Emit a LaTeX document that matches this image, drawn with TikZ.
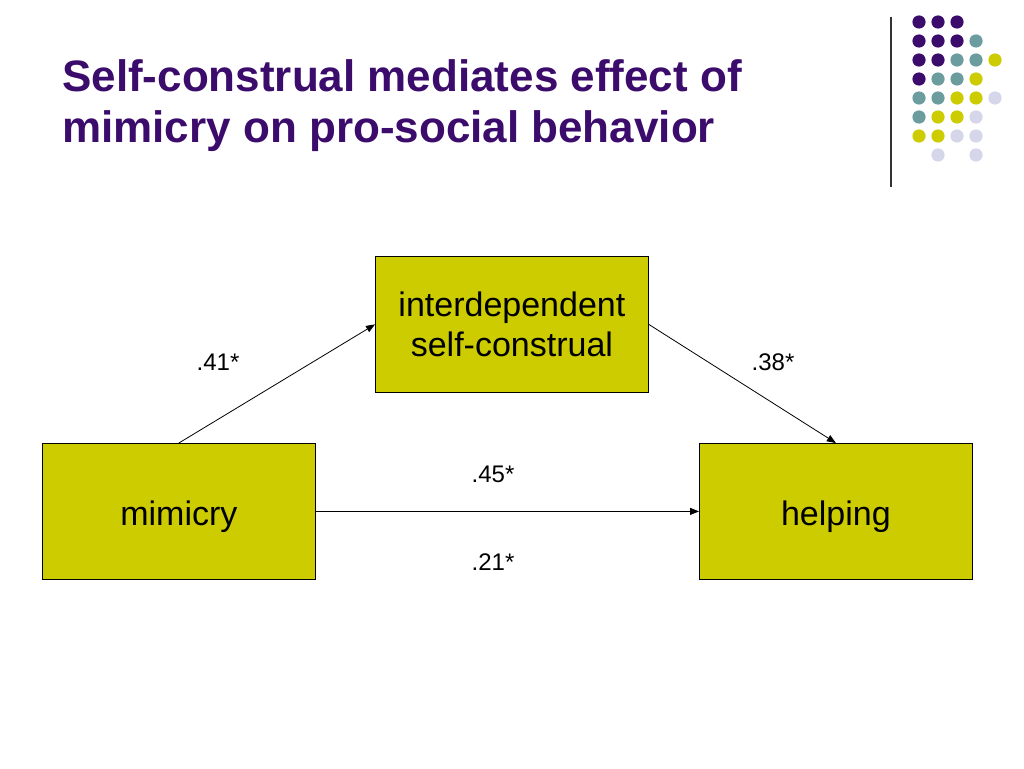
\documentclass[tikz,border=0pt]{standalone}
\usepackage{fontspec}
\setmainfont{Liberation Sans}
\usetikzlibrary{arrows.meta}
\definecolor{titlepurple}{HTML}{3C0C6C}
\definecolor{dpurple}{HTML}{3C0C6C}
\definecolor{dteal}{HTML}{6B9C9E}
\definecolor{dyellow}{HTML}{CCCC00}
\definecolor{dlav}{HTML}{D6D6EA}
\definecolor{boxfill}{HTML}{CCCC00}
\begin{document}
\begin{tikzpicture}[x=1pt,y=-1pt,
  box/.style={draw=black, line width=0.8pt, fill=boxfill, minimum width=273pt, minimum height=136pt, inner sep=0pt, font=\fontsize{34}{40}\selectfont, align=center, anchor=north west},
  oneline/.style={text height=36pt, text depth=7pt},
  lbl/.style={font=\fontsize{24}{28}\selectfont, inner sep=0pt},
  ttl/.style={font=\fontsize{44}{51}\selectfont\bfseries, text=titlepurple, inner sep=0pt, anchor=base west},
  arr/.style={-{Triangle[length=9pt,width=7pt]}, line width=0.8pt},
  dot/.style={radius=6.6pt}
]
\fill[white] (0,0) rectangle (1024,768);
\useasboundingbox (0,0) rectangle (1024,768);

% title
\node[ttl] (t1) at (62,91) {Self-construal mediates effect of};
\node[ttl] (t2) at (62,142) {mimicry on pro-social behavior};

% decoration
\draw[line width=1.3pt, color=black!80] (891,17) -- (891,187);
\foreach \x/\y/\c in {
  919/22/dpurple, 938/22/dpurple, 957/22/dpurple,
  919/41/dpurple, 938/41/dpurple, 957/41/dpurple, 976/41/dteal,
  919/60/dpurple, 938/60/dpurple, 957/60/dteal, 976/60/dteal, 995/60/dyellow,
  919/79/dpurple, 938/79/dteal, 957/79/dteal, 976/79/dyellow,
  919/98/dteal, 938/98/dteal, 957/98/dyellow, 976/98/dyellow, 995/98/dlav,
  919/117/dteal, 938/117/dyellow, 957/117/dyellow, 976/117/dlav,
  919/136/dyellow, 938/136/dyellow, 957/136/dlav, 976/136/dlav,
  938/155/dlav, 976/155/dlav}
  \fill[\c] (\x,\y) circle [dot];

% boxes
\node[box] (inter) at (375,256) {interdependent\\self-construal};
\node[box, oneline] (mim) at (42,443) {mimicry};
\node[box, oneline] (help) at (699,443) {helping};

% arrows
\draw[arr] (mim.north) -- (inter.west);
\draw[arr] (inter.east) -- (help.north);
\draw[arr] (mim.east) -- (help.west);

% labels
\node[lbl] (l41) at (218,362) {.41*};
\node[lbl] (l38) at (773,362) {.38*};
\node[lbl] (l45) at (493,474) {.45*};
\node[lbl] (l21) at (493,562) {.21*};
\end{tikzpicture}
\end{document}
